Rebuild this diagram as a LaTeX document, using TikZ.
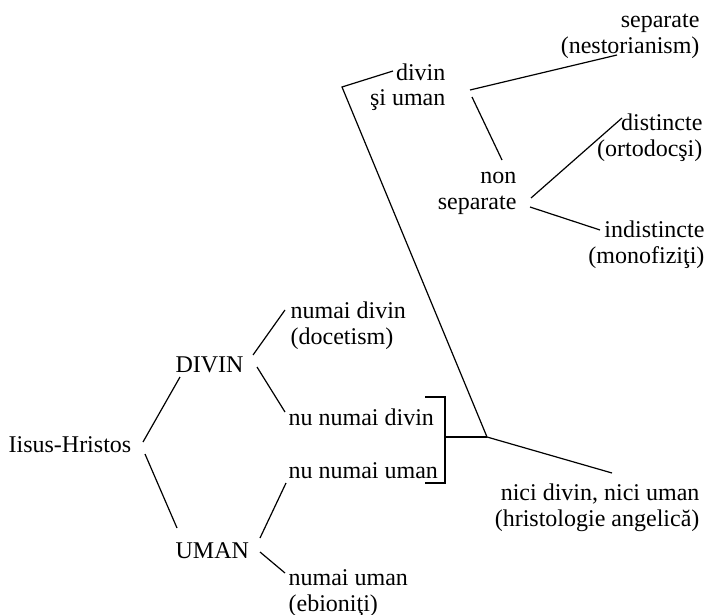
\documentclass[tikz,border=0pt]{standalone}
\usepackage{fontspec}
\setmainfont{Liberation Serif}

\begin{document}
\begin{tikzpicture}[x=0.5pt, y=-0.5pt, line width=0.6pt, lbl/.style = {inner sep=0pt, font=\fontsize{12}{13}\selectfont}]
    \useasboundingbox (0,0) rectangle (707,615);

    %labels
    \node at (8,452) [lbl, anchor=base west] (iisus) {Iisus-Hristos};
    \node at (175,372) [lbl, anchor=base west] (divin) {DIVIN};
    \node at (175,558) [lbl, anchor=base west] (uman) {UMAN};
    \node at (290,344) [lbl, anchor=base west, align=left] (numaidivin) {numai divin\\(docetism)};
    \node at (288,425) [lbl, anchor=base west] (nudivin) {nu numai divin};
    \node at (288,478) [lbl, anchor=base west] (nuuman) {nu numai uman};
    \node at (288,611) [lbl, anchor=base west, align=left] (numaiuman) {numai uman\\(ebioniţi)};
    \node at (446,106) [lbl, anchor=base east, align=right] (siuman) {divin\\şi uman};
    \node at (700,54) [lbl, anchor=base east, align=right] (separate) {separate\\(nestorianism)};
    \node at (517,209) [lbl, anchor=base east, align=right] (nonsep) {non\\separate};
    \node at (703,156) [lbl, anchor=base east, align=right] (distincte) {distincte\\(ortodocşi)};
    \node at (705,263) [lbl, anchor=base east, align=right] (indistincte) {indistincte\\(monofiziţi)};
    \node at (700,526) [lbl, anchor=base east, align=right] (nici) {nici divin, nici uman\\(hristologie angelică)};

    %line ends
    \coordinate (iisus-a) at (143,442);
    \coordinate (iisus-b) at (145,454);
    \coordinate (divin-in) at (180,377);
    \coordinate (uman-in) at (177,528);
    \coordinate (divin-a) at (253,355);
    \coordinate (divin-b) at (257,367);
    \coordinate (uman-a) at (260,538);
    \coordinate (uman-b) at (260,552);
    \coordinate (numaidivin-in) at (285,310);
    \coordinate (nudivin-in) at (285,412);
    \coordinate (nuuman-in) at (286,483);
    \coordinate (numaiuman-in) at (285,573);
    \coordinate (brk-top) at (445,397);
    \coordinate (brk-bot) at (445,483);
    \coordinate (brk-mid) at (445,437);
    \coordinate (junc) at (487,437);
    \coordinate (corner) at (342,87);
    \coordinate (siuman-in) at (393,71);
    \coordinate (nici-in) at (612,473);
    \coordinate (siuman-a) at (470,90);
    \coordinate (siuman-b) at (472,97);
    \coordinate (separate-in) at (617,55);
    \coordinate (nonsep-in) at (502,160);
    \coordinate (nonsep-a) at (531,198);
    \coordinate (nonsep-b) at (530,207);
    \coordinate (distincte-in) at (622,118);
    \coordinate (indistincte-in) at (600,230);

    %first split
    \draw (iisus-a) -- (divin-in);
    \draw (iisus-b) -- (uman-in);
    \draw (divin-a) -- (numaidivin-in);
    \draw (divin-b) -- (nudivin-in);
    \draw (uman-a) -- (nuuman-in);
    \draw (uman-b) -- (numaiuman-in);

    %bracket
    \draw ([xshift=-10pt]brk-top) -- (brk-top) -- (brk-bot) -- ([xshift=-10pt]brk-bot);
    \draw (brk-mid) -- (junc);
    \draw (siuman-in) -- (corner) -- (junc) -- (nici-in);

    %divin si uman
    \draw (siuman-a) -- (separate-in);
    \draw (siuman-b) -- (nonsep-in);
    \draw (nonsep-a) -- (distincte-in);
    \draw (nonsep-b) -- (indistincte-in);
\end{tikzpicture}
\end{document}
